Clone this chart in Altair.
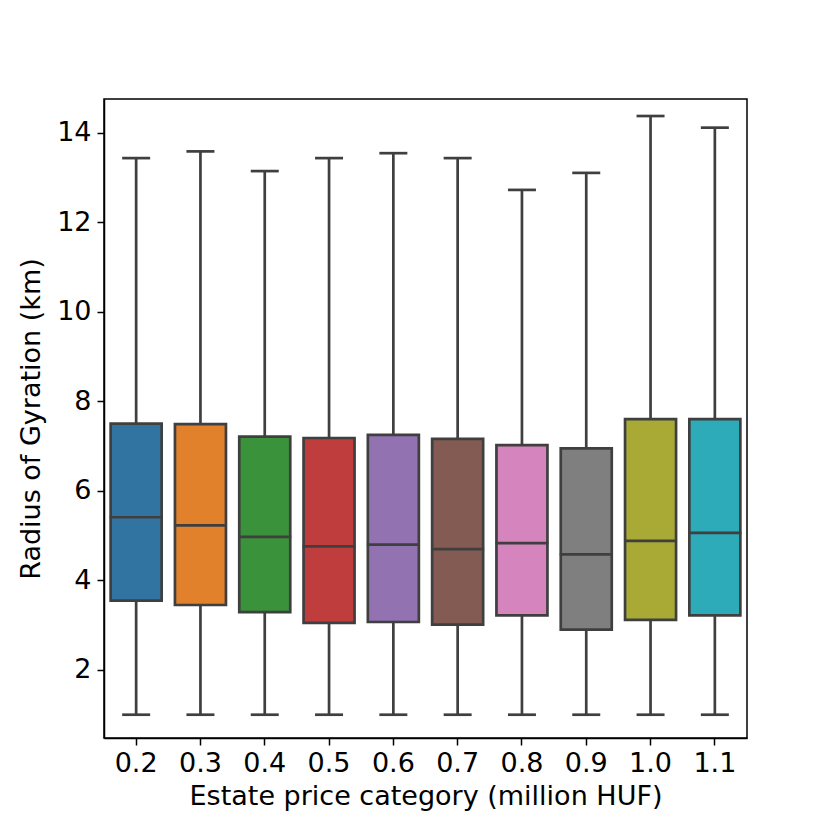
import altair as alt
import pandas as pd

categories = ["0.2", "0.3", "0.4", "0.5", "0.6", "0.7", "0.8", "0.9", "1.0", "1.1"]
whisker_low = [1.0, 1.0, 1.0, 1.0, 1.0, 1.0, 1.0, 1.0, 1.0, 1.0]
q1 = [3.55, 3.45, 3.29, 3.05, 3.07, 3.01, 3.22, 2.90, 3.12, 3.22]
median = [5.41, 5.23, 4.97, 4.76, 4.80, 4.70, 4.83, 4.58, 4.88, 5.06]
q3 = [7.50, 7.49, 7.21, 7.18, 7.25, 7.16, 7.02, 6.95, 7.60, 7.60]
whisker_high = [13.43, 13.58, 13.14, 13.43, 13.54, 13.43, 12.72, 13.10, 14.37, 14.11]
colors = ["#3274a1", "#e1812c", "#3a923a", "#c03d3e", "#9372b2",
          "#845b53", "#d684bd", "#7f7f7f", "#a9aa35", "#2eabb8"]

df = pd.DataFrame({
    "cat": categories, "lo": whisker_low, "q1": q1, "med": median,
    "q3": q3, "hi": whisker_high,
})

FONT = "DejaVu Sans"
EDGE = "#3f3f3f"
LW = 2.7
FS = 27

x_enc = alt.X("cat:N", sort=categories,
              scale=alt.Scale(paddingInner=0, paddingOuter=0),
              axis=alt.Axis(title="Estate price category (million HUF)", labelAngle=0,
                            labelFontSize=FS, titleFontSize=FS, labelFont=FONT, titleFont=FONT,
                            labelColor="black", titleColor="black", tickColor="black",
                            domainColor="black", tickSize=7, tickWidth=1.5, domainWidth=1.5,
                            labelPadding=5, titlePadding=7, titleFontWeight="normal"))
y_scale = alt.Scale(domain=[0.48, 14.75], nice=False, zero=False)
y_axis = alt.Axis(title="Radius of Gyration (km)", values=[2, 4, 6, 8, 10, 12, 14], grid=False,
                  labelFontSize=FS, titleFontSize=FS, labelFont=FONT, titleFont=FONT,
                  labelColor="black", titleColor="black", tickColor="black",
                  domainColor="black", tickSize=7, tickWidth=1.5, domainWidth=1.5,
                  labelPadding=6, titlePadding=11, titleFontWeight="normal")

base = alt.Chart(df)

whisk_lo = base.mark_rule(color=EDGE, strokeWidth=LW).encode(
    x=x_enc, y=alt.Y("lo:Q", scale=y_scale, axis=y_axis), y2="q1:Q")
whisk_hi = base.mark_rule(color=EDGE, strokeWidth=LW).encode(
    x=x_enc, y=alt.Y("q3:Q", scale=y_scale, axis=y_axis), y2="hi:Q")
boxes = base.mark_bar(size=51, stroke=EDGE, strokeWidth=LW, opacity=1).encode(
    x=x_enc, y=alt.Y("q1:Q", scale=y_scale, axis=y_axis), y2="q3:Q",
    color=alt.Color("cat:N", sort=categories,
                    scale=alt.Scale(domain=categories, range=colors), legend=None))
meds = base.mark_tick(size=53, thickness=LW, color=EDGE, opacity=1).encode(
    x=x_enc, y=alt.Y("med:Q", scale=y_scale, axis=y_axis))
cap_lo = base.mark_tick(size=28, thickness=LW, color=EDGE, opacity=1).encode(
    x=x_enc, y=alt.Y("lo:Q", scale=y_scale, axis=y_axis))
cap_hi = base.mark_tick(size=28, thickness=LW, color=EDGE, opacity=1).encode(
    x=x_enc, y=alt.Y("hi:Q", scale=y_scale, axis=y_axis))

chart = alt.layer(whisk_lo, whisk_hi, boxes, meds, cap_lo, cap_hi).properties(
    width=643, height=639,
    autosize=alt.AutoSizeParams(type="none"),
    padding={"left": 96, "top": 91, "right": 70, "bottom": 80},
).configure(background="white").configure_view(stroke="black", strokeWidth=1.5)

chart.save("out.html", embed_options={"renderer": "svg", "actions": False})
